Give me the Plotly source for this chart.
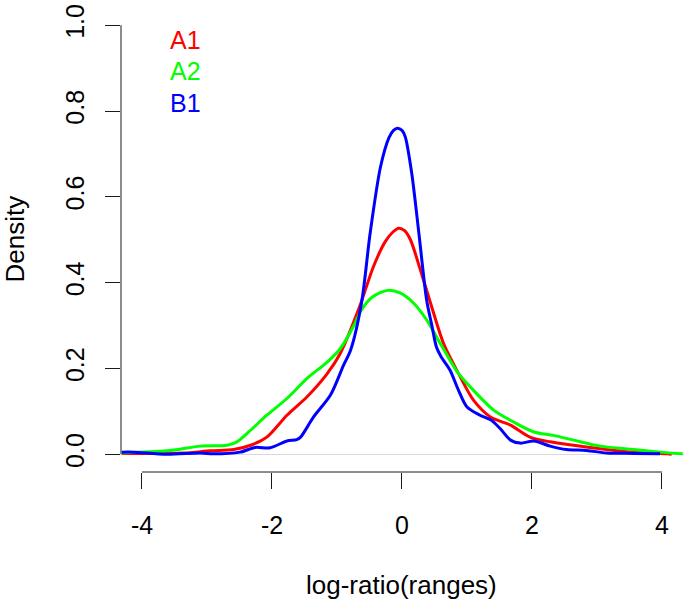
import plotly.graph_objects as go

# ---- data ----
series_names = ["A1", "A2", "B1"]
series_colors = ["#FF0000", "#00FF00", "#0000FF"]

a1_x = [-4.31, -3.36, -2.95, -2.59, -2.33, -2.08, -1.77, -1.46, -1.15, -0.95, -0.65,
        -0.44, -0.26, -0.14, -0.05, 0.04, 0.13, 0.28, 0.44, 0.64, 0.87, 1.10, 1.36, 1.67, 1.97,
        2.28, 2.64, 3.05, 3.56, 4.08, 4.15]
a1_y = [0.002, 0.003, 0.008, 0.011, 0.021, 0.040, 0.091, 0.134, 0.188, 0.235, 0.345,
        0.437, 0.495, 0.518, 0.527, 0.521, 0.500, 0.431, 0.352, 0.258, 0.188, 0.126, 0.087, 0.068, 0.040,
        0.029, 0.021, 0.013, 0.005, 0.001, 0.000]

a2_x = [-4.31, -3.62, -3.10, -2.69, -2.54, -2.33, -2.08, -1.77, -1.46, -1.15, -0.95,
        -0.74, -0.63, -0.46, -0.22, -0.03, 0.18, 0.38, 0.59, 0.85, 1.10, 1.41, 1.72,
        2.03, 2.33, 2.64, 3.05, 3.56, 3.97, 4.32]
a2_y = [0.003, 0.008, 0.019, 0.021, 0.029, 0.056, 0.091, 0.130, 0.177, 0.215, 0.246,
        0.300, 0.335, 0.366, 0.382, 0.376, 0.352, 0.313, 0.258, 0.192, 0.149, 0.103, 0.075,
        0.052, 0.044, 0.033, 0.019, 0.011, 0.005, 0.001]

b1_x = [-4.31, -4.13, -3.62, -3.10, -2.90, -2.49, -2.26, -2.03, -1.77, -1.62, -1.56,
        -1.36, -1.10, -0.90, -0.79, -0.62, -0.49, -0.33, -0.20, -0.13, -0.07, 0.00, 0.05, 0.15, 0.26,
        0.38, 0.46, 0.53, 0.60, 0.74, 0.87, 1.00, 1.20, 1.38, 1.51, 1.67, 1.82, 2.03,
        2.28, 2.53, 2.84, 3.15, 3.56, 3.97]
b1_y = [0.005, 0.005, 0.000, 0.003, 0.001, 0.005, 0.016, 0.015, 0.031, 0.034, 0.040,
        0.087, 0.138, 0.207, 0.243, 0.355, 0.515, 0.670, 0.738, 0.755, 0.760, 0.755, 0.740, 0.655, 0.515,
        0.359, 0.300, 0.250, 0.228, 0.196, 0.149, 0.110, 0.091, 0.079, 0.060, 0.033, 0.026, 0.031,
        0.019, 0.011, 0.009, 0.003, 0.002, 0.001]

x_ticks = [-4, -2, 0, 2, 4]
x_tick_labels = ["-4", "-2", "0", "2", "4"]
y_ticks = [0.0, 0.2, 0.4, 0.6, 0.8, 1.0]
y_tick_labels = ["0.0", "0.2", "0.4", "0.6", "0.8", "1.0"]
x_title = "log-ratio(ranges)"
y_title = "Density"

FONT = "Liberation Sans, Arial, Helvetica, sans-serif"
AX = "#1a1a1a"

fig = go.Figure()
for name, color, xs, ys in zip(series_names, series_colors,
                               [a1_x, a2_x, b1_x], [a1_y, a2_y, b1_y]):
    fig.add_trace(go.Scatter(x=xs, y=ys, mode="lines", name=name,
                             line=dict(color=color, width=3, shape="spline", smoothing=0.8),
                             showlegend=False))

# R-style axis lines spanning only first..last tick
fig.add_shape(type="line", xref="x", yref="paper", x0=min(x_ticks), x1=max(x_ticks),
              y0=0, y1=0, line=dict(color=AX, width=1))
fig.add_shape(type="line", xref="paper", yref="y", x0=0, x1=0,
              y0=min(y_ticks), y1=max(y_ticks), line=dict(color=AX, width=1))

# legend as coloured text
legend_y = [0.966, 0.894, 0.819]
for name, color, ly in zip(series_names, series_colors, legend_y):
    fig.add_annotation(x=-3.60, y=ly, xref="x", yref="y", text=name, showarrow=False,
                       xanchor="left", yanchor="middle",
                       font=dict(family=FONT, size=25, color=color))

# axis titles
fig.add_annotation(x=0, y=0, xref="x", yref="paper", text=x_title, showarrow=False,
                   xanchor="center", yanchor="middle", yshift=-113,
                   font=dict(family=FONT, size=26, color="black"))
fig.add_annotation(x=0, y=0.5, xref="paper", yref="paper", text=y_title, showarrow=False,
                   xanchor="center", yanchor="middle", xshift=-107, textangle=-90,
                   font=dict(family=FONT, size=26, color="black"))

fig.update_layout(
    width=684, height=603,
    margin=dict(l=121, r=0, t=7, b=131),
    paper_bgcolor="white", plot_bgcolor="white",
    font=dict(family=FONT, size=24, color="black"),
    xaxis=dict(range=[-4.323, 4.339], tickmode="array", tickvals=x_ticks, ticktext=x_tick_labels,
               ticks="outside", ticklen=16, tickwidth=1, tickcolor=AX,
               showline=False, showgrid=False, zeroline=False, ticklabelstandoff=15,
               tickfont=dict(family=FONT, size=25, color="black")),
    yaxis=dict(range=[-0.0413, 1.0424], tickmode="array", tickvals=y_ticks, ticktext=y_tick_labels,
               ticks="outside", ticklen=15, tickwidth=1, tickcolor=AX, tickangle=-90,
               showline=False, showgrid=False, zeroline=True, zerolinecolor="#d9d9d9",
               zerolinewidth=1, ticklabelstandoff=11,
               tickfont=dict(family=FONT, size=25, color="black")),
)

fig.write_html("out.html", config={"displayModeBar": False},
               post_script="document.body.style.margin='0';document.body.style.padding='0';")
